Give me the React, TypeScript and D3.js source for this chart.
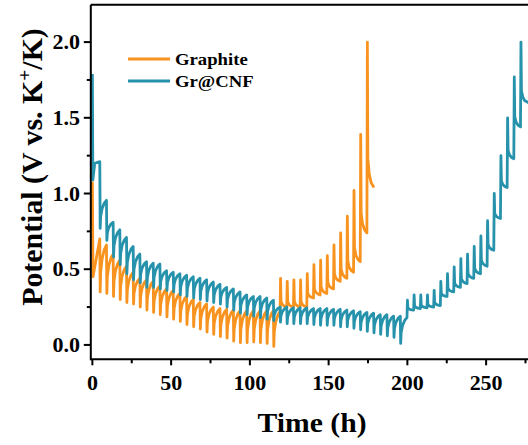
import React from 'react';
import * as d3 from 'd3';

// GITT pulse grid (h)
const PULSE_START = 4.7;
const PULSE_PERIOD = 4.24;

// ---------- Graphite ----------
const graphiteStart: [number, number][] = [[0, 1.08], [0.4, 0.45]];
// relaxed potential right before each discharge pulse
const graphiteDisTop = [0.70, 0.66, 0.60, 0.56, 0.52, 0.48, 0.44, 0.43, 0.42, 0.39, 0.37, 0.36, 0.34, 0.32, 0.30, 0.28, 0.27, 0.25, 0.24, 0.235, 0.23, 0.225, 0.225, 0.225, 0.225, 0.225, 0.225];
// potential at the end of each discharge pulse
const graphiteDisBot = [0.35, 0.34, 0.32, 0.30, 0.28, 0.27, 0.25, 0.23, 0.215, 0.20, 0.185, 0.17, 0.155, 0.135, 0.12, 0.105, 0.085, 0.07, 0.055, 0.045, 0.025, 0.015, 0.015, 0.02, 0.015, 0.01, -0.01];
const graphiteChgRelax0 = 0.22;
const graphiteChgPeak = [0.44, 0.42, 0.43, 0.43, 0.47, 0.53, 0.56, 0.59, 0.66, 0.74, 0.85, 1.02, 1.39, 2.0];
const graphiteChgRelax = [0.25, 0.25, 0.25, 0.25, 0.31, 0.33, 0.34, 0.37, 0.42, 0.44, 0.48, 0.55, 0.74, 1.04];
const graphiteEnd = 178.8;

// ---------- Gr@CNF ----------
const cnfStart: [number, number][] = [[0, 1.79], [0.3, 1.09], [1.5, 1.2]];
const cnfDisTop = [1.21, 0.955, 0.81, 0.76, 0.71, 0.65, 0.60, 0.55, 0.54, 0.535, 0.49, 0.48, 0.47, 0.46, 0.45, 0.44, 0.43, 0.415, 0.40, 0.38, 0.37, 0.35, 0.33, 0.32, 0.32, 0.31, 0.295, 0.25, 0.25, 0.245, 0.245, 0.245, 0.24, 0.24, 0.24, 0.235, 0.235, 0.23, 0.225, 0.22, 0.215, 0.21, 0.20, 0.20, 0.19, 0.19];
const cnfDisBot = [0.77, 0.69, 0.58, 0.53, 0.47, 0.43, 0.41, 0.38, 0.38, 0.37, 0.36, 0.35, 0.33, 0.32, 0.31, 0.30, 0.29, 0.28, 0.27, 0.25, 0.23, 0.21, 0.20, 0.19, 0.18, 0.17, 0.16, 0.15, 0.14, 0.14, 0.14, 0.14, 0.135, 0.13, 0.13, 0.13, 0.12, 0.12, 0.11, 0.10, 0.09, 0.08, 0.07, 0.06, 0.05, 0.01];
const cnfChgRelax0 = 0.18;
const cnfChgPeak = [0.295, 0.33, 0.33, 0.33, 0.36, 0.42, 0.47, 0.515, 0.57, 0.60, 0.65, 0.72, 0.82, 1.0, 1.25, 1.50, 1.77, 2.0];
const cnfChgRelax = [0.23, 0.24, 0.245, 0.25, 0.26, 0.32, 0.35, 0.38, 0.405, 0.44, 0.47, 0.52, 0.625, 0.835, 1.04, 1.23, 1.44, 1.60];
const cnfEnd = 277;

const xTicks = [0, 50, 100, 150, 200, 250];
const xMinor = [25, 75, 125, 175, 225, 275];
const yTicks = [0, 0.5, 1.0, 1.5, 2.0];
const yMinor = [0.25, 0.75, 1.25, 1.75];

const seriesNames = ['Graphite', 'Gr@CNF'];
const seriesColors = ['#F7931E', '#2692AB'];

// relaxation template (time offset h, fraction of recovery)
const recovery: [number, number][] = [[0.3, 0.42], [1.2, 0.7], [2.6, 0.9]];
const decay: [number, number][] = [[0.6, 0.2], [1.5, 0.09], [2.8, 0.03]];

function buildSeries(
  start: [number, number][], disTop: number[], disBot: number[], relax0: number,
  peaks: number[], relaxes: number[], endT: number
): [number, number][] {
  const pts: [number, number][] = start.map(p => [p[0], p[1]]);
  const n = disTop.length;
  for (let k = 0; k < n; k++) {
    const t = PULSE_START + k * PULSE_PERIOD;
    const b = disBot[k];
    const next = k + 1 < n ? disTop[k + 1] : relax0;
    pts.push([t, disTop[k]]);
    pts.push([t + 0.25, b]);
    recovery.forEach(([dt, f]) => pts.push([t + 0.25 + dt, b + f * (next - b)]));
  }
  for (let j = 0; j < peaks.length; j++) {
    const ts = PULSE_START + (n + j) * PULSE_PERIOD;
    const prev = j === 0 ? relax0 : relaxes[j - 1];
    const p = peaks[j];
    const r = relaxes[j];
    pts.push([ts, prev]);
    pts.push([ts + 0.3, p]);
    decay.forEach(([dt, f]) => pts.push([ts + dt, r + f * (p - r)]));
  }
  pts.push([endT, relaxes[relaxes.length - 1]]);
  return pts;
}

export default function App() {
  const W = 528, H = 445;
  const x = d3.scaleLinear().domain([-1, 280]).range([90.8, 90.8 + 281 * 1.575]);
  const y = d3.scaleLinear().domain([-0.095, 2.247]).range([359.3, 4.7]);
  const left = x(-1), right = x(280), top = y(2.247), bottom = y(-0.095);

  const line = d3.line<[number, number]>().x(d => x(d[0])).y(d => y(d[1]));
  const gr = buildSeries(graphiteStart, graphiteDisTop, graphiteDisBot, graphiteChgRelax0, graphiteChgPeak, graphiteChgRelax, graphiteEnd);
  const cnf = buildSeries(cnfStart, cnfDisTop, cnfDisBot, cnfChgRelax0, cnfChgPeak, cnfChgRelax, cnfEnd);
  const font = '"Liberation Serif", "Times New Roman", serif';

  return (
    <svg width={W} height={H} style={{ position: 'absolute', left: 0, top: 0, background: '#fff' }}>
      <defs>
        <clipPath id="plot">
          <rect x={left} y={top} width={right - left} height={bottom - top} />
        </clipPath>
      </defs>
      <g clipPath="url(#plot)" fill="none" strokeWidth={2.8} strokeLinejoin="round">
        <path d={line(gr) || ''} stroke={seriesColors[0]} />
        <path d={line(cnf) || ''} stroke={seriesColors[1]} />
      </g>
      {/* frame */}
      <g stroke="#000" strokeWidth={2} fill="none">
        <line x1={left} x2={right} y1={bottom} y2={bottom} />
        <line x1={left} x2={left} y1={top} y2={bottom + 1} />
        <line x1={left} x2={right} y1={top} y2={top} />
        {xTicks.map(t => <line key={'xt' + t} x1={x(t)} x2={x(t)} y1={bottom} y2={bottom + 6} />)}
        {xMinor.map(t => <line key={'xm' + t} x1={x(t)} x2={x(t)} y1={bottom} y2={bottom + 4} />)}
        {yTicks.map(t => <line key={'yt' + t} x1={left - 7} x2={left} y1={y(t)} y2={y(t)} />)}
        {yMinor.map(t => <line key={'ym' + t} x1={left - 4} x2={left} y1={y(t)} y2={y(t)} />)}
      </g>
      <g fontFamily={font} fontWeight="bold" fontSize={20} fill="#000">
        {xTicks.map(t => (
          <text key={'xl' + t} transform={`translate(${x(t)},${390}) scale(1.1,1)`} textAnchor="middle">{d3.format('d')(t)}</text>
        ))}
        {yTicks.map(t => (
          <text key={'yl' + t} transform={`translate(${80},${y(t) + 7}) scale(1.1,1)`} textAnchor="end">{d3.format('.1f')(t)}</text>
        ))}
      </g>
      <g fontFamily={font} fontWeight="bold" fill="#000">
        <text fontSize={28} transform={`translate(312,432) scale(1.06,1)`} textAnchor="middle">Time (h)</text>
        <text fontSize={29} transform={`translate(42,167) rotate(-90) scale(1.03,1)`} textAnchor="middle">
          Potential (V vs. K<tspan dy={-11} fontSize={19}>+</tspan><tspan dy={11}>/K)</tspan>
        </text>
      </g>
      <g fontFamily={font} fontWeight="bold" fontSize={17}>
        {seriesNames.map((name, i) => (
          <g key={name}>
            <line x1={128} x2={170} y1={59 + i * 22} y2={59 + i * 22} stroke={seriesColors[i]} strokeWidth={3} />
            <text transform={`translate(175,${65 + i * 22}) scale(1.1,1)`}>{name}</text>
          </g>
        ))}
      </g>
    </svg>
  );
}
